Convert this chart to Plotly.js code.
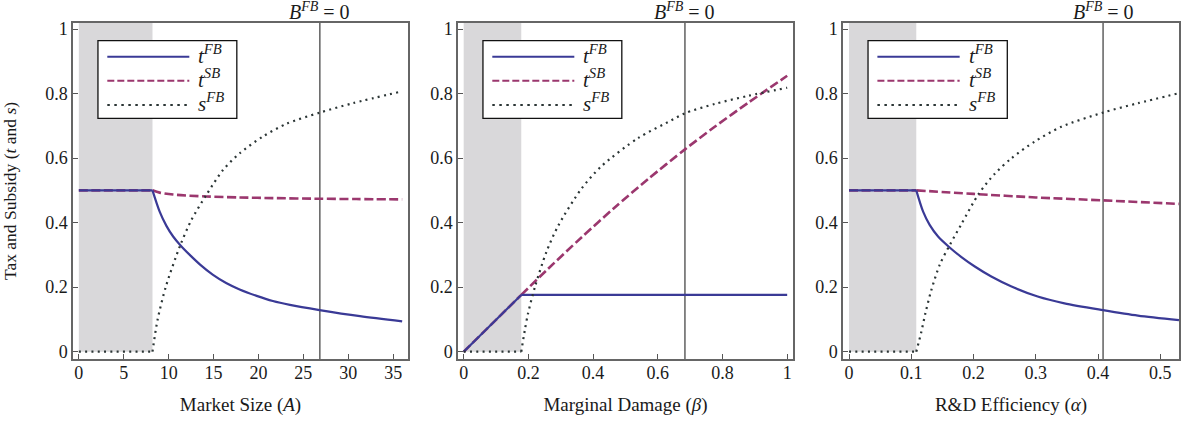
<!DOCTYPE html>
<html>
<head>
<meta charset="utf-8">
<script src="https://cdn.plot.ly/plotly-3.0.1.min.js"></script>
<style>html,body{margin:0;padding:0;background:#fff;}</style>
</head>
<body>
<div id="chart" style="width:1184px;height:425px;"></div>
<script>
// ---------- Data ----------
// Panel 1: Market Size (A)
const p1_tFB_x = [0, 8.2, 9.0, 9.75, 10.5, 11.3, 12.35, 13.5, 14.9, 16.4, 17.9, 19.8, 21.6, 23.5, 26.8, 31.3, 36.0];
const p1_tFB_y = [0.5, 0.5, 0.434, 0.390, 0.357, 0.330, 0.300, 0.270, 0.239, 0.213, 0.193, 0.173, 0.157, 0.145, 0.129, 0.110, 0.094];
const p1_tSB_x = [0, 8.2, 9.0, 10.5, 12.35, 14.2, 17.9, 21.6, 26.8, 30.9, 36.0];
const p1_tSB_y = [0.5, 0.5, 0.493, 0.487, 0.4835, 0.481, 0.478, 0.476, 0.474, 0.473, 0.472];
const p1_sFB_x = [0, 8.2, 8.76, 9.69, 11.31, 12.53, 14.2, 16.05, 17.91, 20.5, 23.1, 26.84, 30.5, 36.0];
const p1_sFB_y = [0, 0, 0.098, 0.202, 0.331, 0.408, 0.486, 0.563, 0.615, 0.667, 0.706, 0.741, 0.770, 0.807];

// Panel 2: Marginal Damage (beta)
const p2_tFB_x = [0, 0.178, 1.0];
const p2_tFB_y = [0, 0.176, 0.176];
const p2_tSB_x = [0, 0.178, 0.261, 0.364, 0.467, 0.570, 0.684, 0.776, 0.879, 1.0];
const p2_tSB_y = [0, 0.176, 0.257, 0.354, 0.447, 0.535, 0.627, 0.697, 0.771, 0.855];
const p2_sFB_x = [0, 0.178, 0.189, 0.199, 0.220, 0.256, 0.292, 0.364, 0.426, 0.539, 0.642, 0.684, 0.777, 0.880, 1.0];
const p2_sFB_y = [0, 0, 0.067, 0.119, 0.200, 0.310, 0.390, 0.505, 0.575, 0.662, 0.717, 0.739, 0.768, 0.793, 0.818];

// Panel 3: R&D Efficiency (alpha)
const p3_tFB_x = [0, 0.108, 0.119, 0.1295, 0.143, 0.1616, 0.180, 0.202, 0.2285, 0.261, 0.303, 0.346, 0.408, 0.464, 0.53];
const p3_tFB_y = [0.5, 0.5, 0.434, 0.393, 0.357, 0.323, 0.294, 0.264, 0.233, 0.202, 0.171, 0.150, 0.129, 0.112, 0.098];
const p3_tSB_x = [0, 0.108, 0.2, 0.3, 0.408, 0.53];
const p3_tSB_y = [0.5, 0.5, 0.489, 0.478, 0.469, 0.458];
const p3_sFB_x = [0, 0.108, 0.1162, 0.1226, 0.1322, 0.1456, 0.1616, 0.1804, 0.2082, 0.2338, 0.2606, 0.298, 0.341, 0.408, 0.464, 0.53];
const p3_sFB_y = [0, 0, 0.062, 0.119, 0.191, 0.269, 0.330, 0.395, 0.489, 0.551, 0.599, 0.651, 0.697, 0.741, 0.770, 0.801];

// Shaded region end and B^FB = 0 line positions
const grayEnd = [8.2, 0.178, 0.108];
const bLine = [26.84, 0.684, 0.408];

// Ticks
const yTickVals = [0, 0.2, 0.4, 0.6, 0.8, 1];
const yTickText = ['0', '0.2', '0.4', '0.6', '0.8', '1'];
const p1TickVals = [0, 5, 10, 15, 20, 25, 30, 35];
const p1TickText = ['0', '5', '10', '15', '20', '25', '30', '35'];
const p2TickVals = [0, 0.2, 0.4, 0.6, 0.8, 1];
const p2TickText = ['0', '0.2', '0.4', '0.6', '0.8', '1'];
const p3TickVals = [0, 0.1, 0.2, 0.3, 0.4, 0.5];
const p3TickText = ['0', '0.1', '0.2', '0.3', '0.4', '0.5'];

const xTitles = ['Market Size (<i>A</i>)', 'Marginal Damage (<i>β</i>)', 'R&D Efficiency (<i>α</i>)'];
const yTitle = 'Tax and Subsidy (<i>t</i> and <i>s</i>)';
const legendNames = ['<i>t<sup>FB</sup></i>', '<i>t<sup>SB</sup></i>', '<i>s<sup>FB</sup></i>'];
const bLabel = '<i>B<sup>FB</sup></i> = 0';

// ---------- Styling ----------
const FONT = 'Liberation Serif';
const C_BLUE = '#3a3a96';
const C_PINK = '#9b376e';
const C_DOT = '#2b3535';
const C_GRAY = '#d9d8da';
const TXT = '#1a1a1a';
const styles = [
  {color: C_BLUE, width: 2.2, dash: 'solid'},
  {color: C_PINK, width: 2.6, dash: '9px,3.5px'},
  {color: C_DOT, width: 2.2, dash: '2px,4.3px'}
];
const xRanges = [[-0.65, 36.65], [-0.0176, 1.018], [-0.0097, 0.53]];
const yRange = [-0.0226, 1.0186];
const domains = [[0, 0.3029], [0.3481, 0.6510], [0.6962, 1]];

const panels = [
  [[p1_tFB_x, p1_tFB_y], [p1_tSB_x, p1_tSB_y], [p1_sFB_x, p1_sFB_y]],
  [[p2_tFB_x, p2_tFB_y], [p2_tSB_x, p2_tSB_y], [p2_sFB_x, p2_sFB_y]],
  [[p3_tFB_x, p3_tFB_y], [p3_tSB_x, p3_tSB_y], [p3_sFB_x, p3_sFB_y]]
];
const tickSets = [[p1TickVals, p1TickText], [p2TickVals, p2TickText], [p3TickVals, p3TickText]];

const traces = [];
const drawOrder = [1, 0, 2]; // dashed, solid, dotted
panels.forEach((series, pi) => {
  const xa = pi === 0 ? 'x' : 'x' + (pi + 1);
  const ya = pi === 0 ? 'y' : 'y' + (pi + 1);
  drawOrder.forEach(si => {
    const [xs, ys] = series[si];
    const k = grayEnd[pi];
    const ax = [], ay = [], bx = [], by = [];
    xs.forEach((x, i) => {
      if (x <= k + 1e-9) { ax.push(x); ay.push(ys[i]); }
      if (x >= k - 1e-9) { bx.push(x); by.push(ys[i]); }
    });
    const st = styles[si];
    traces.push({x: ax, y: ay, xaxis: xa, yaxis: ya, mode: 'lines', hoverinfo: 'skip',
      line: {color: st.color, width: st.width, dash: st.dash, shape: 'linear'}, showlegend: false});
    traces.push({x: bx, y: by, xaxis: xa, yaxis: ya, mode: 'lines', hoverinfo: 'skip',
      line: {color: st.color, width: st.width, dash: st.dash, shape: bx.length > 2 ? 'spline' : 'linear', smoothing: 0.8}, showlegend: false});
  });
});

const layout = {
  width: 1184, height: 425,
  margin: {l: 73, r: 5, t: 23, b: 66},
  paper_bgcolor: '#fff', plot_bgcolor: '#fff',
  showlegend: false,
  font: {family: FONT, size: 18, color: TXT},
  shapes: [], annotations: []
};

for (let pi = 0; pi < 3; pi++) {
  const sfx = pi === 0 ? '' : String(pi + 1);
  layout['xaxis' + sfx] = {
    domain: domains[pi], range: xRanges[pi], anchor: 'y' + sfx,
    tickmode: 'array', tickvals: tickSets[pi][0], ticktext: tickSets[pi][1],
    ticks: 'inside', ticklen: 5, tickwidth: 1, tickcolor: '#555',
    showline: true, linecolor: '#666', linewidth: 1.5, mirror: true,
    showgrid: false, zeroline: false, automargin: false, ticklabelstandoff: -3,
    tickfont: {family: FONT, size: 18, color: TXT},
    title: {text: xTitles[pi], font: {family: FONT, size: 19, color: TXT}, standoff: 15}
  };
  const yax = {
    domain: [0, 1], range: yRange, anchor: 'x' + sfx,
    tickmode: 'array', tickvals: yTickVals, ticktext: yTickText,
    ticks: 'inside', ticklen: 5, tickwidth: 1, tickcolor: '#555',
    showline: true, linecolor: '#666', linewidth: 1.5, mirror: true,
    showgrid: false, zeroline: false, automargin: false,
    tickfont: {family: FONT, size: 18, color: TXT}
  };
  if (pi === 0) yax.title = {text: yTitle, font: {family: FONT, size: 17.5, color: TXT}, standoff: 25};
  layout['yaxis' + sfx] = yax;
  const xr = 'x' + sfx, yr = 'y' + sfx;
  layout.shapes.push({type: 'rect', xref: xr, yref: yr, x0: 0, x1: grayEnd[pi], y0: 0, y1: yRange[1],
    fillcolor: C_GRAY, line: {width: 0}, layer: 'below'});
  layout.shapes.push({type: 'line', xref: xr, yref: yr + ' domain', x0: bLine[pi], x1: bLine[pi], y0: 0, y1: 1,
    line: {color: '#111', width: 1}, layer: 'below'});
  layout.annotations.push({xref: xr, yref: yr + ' domain', x: bLine[pi], y: 1, yanchor: 'bottom', xanchor: 'center',
    text: bLabel, showarrow: false, font: {family: FONT, size: 20, color: TXT}, yshift: -2});
  layout.shapes.push({type: 'rect', xref: xr + ' domain', yref: yr + ' domain', x0: 0.0745, x1: 0.489, y0: 0.7164, y1: 0.9473,
    fillcolor: '#fff', line: {color: '#111', width: 1.3}, layer: 'above'});
  const ly = [0.8997, 0.8283, 0.756];
  for (let si = 0; si < 3; si++) {
    const st = styles[si];
    layout.shapes.push({type: 'line', xref: xr + ' domain', yref: yr + ' domain', x0: 0.1024, x1: 0.3472, y0: ly[si], y1: ly[si],
      line: {color: st.color, width: 2, dash: si === 1 ? '7px,3px' : (si === 2 ? '2.5px,4.5px' : 'solid')}, layer: 'above'});
    layout.annotations.push({xref: xr + ' domain', yref: yr + ' domain', x: 0.368, y: ly[si], xanchor: 'left', yanchor: 'middle',
      text: legendNames[si], showarrow: false, font: {family: FONT, size: 21, color: TXT}, yshift: 2});
  }
}

Plotly.newPlot('chart', traces, layout, {displayModeBar: false});
</script>
</body>
</html>
